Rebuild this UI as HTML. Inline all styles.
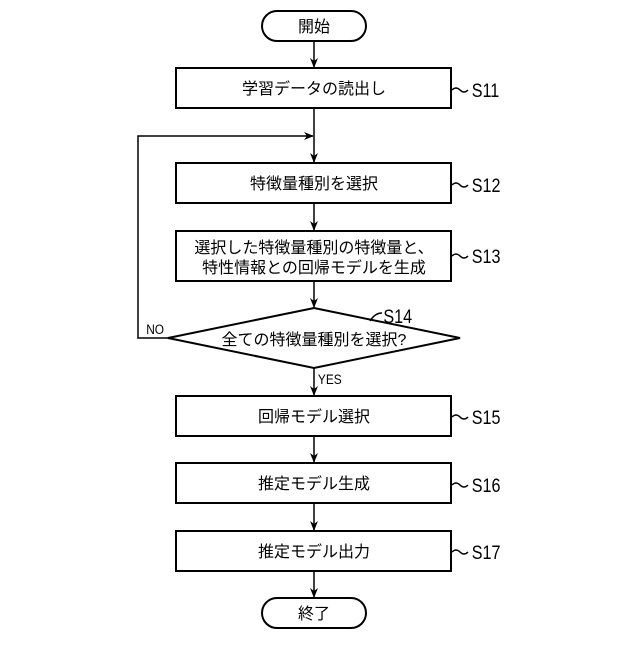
<!DOCTYPE html>
<html><head><meta charset="utf-8"><style>
body{margin:0;background:#fff}
svg text{font-family:"Liberation Sans","Noto Sans CJK JP",sans-serif;fill:#000}
</style></head><body>
<svg width="640" height="640" viewBox="0 0 640 640" xmlns="http://www.w3.org/2000/svg">
<defs><marker id="a" markerWidth="10" markerHeight="10" refX="9" refY="5" orient="auto" markerUnits="userSpaceOnUse"><path d="M0,1 L10,5 L0,9 L3,5 Z" fill="#000"/></marker></defs>
<g stroke="#000" stroke-width="2" fill="none">
<rect x="262" y="11" width="104" height="30" rx="15"/>
<rect x="176" y="68" width="275" height="40"/>
<rect x="176" y="163" width="275" height="40"/>
<rect x="176" y="231" width="275" height="50"/>
<polygon points="314,308 460,338 314,368 168,338"/>
<rect x="176" y="396" width="275" height="40"/>
<rect x="176" y="463" width="275" height="40"/>
<rect x="176" y="531" width="275" height="40"/>
<rect x="262" y="598" width="104" height="30" rx="15"/>
<g stroke-width="1.5">
<line x1="314" y1="41" x2="314" y2="67" marker-end="url(#a)"/>
<line x1="314" y1="108" x2="314" y2="162" marker-end="url(#a)"/>
<line x1="314" y1="203" x2="314" y2="230" marker-end="url(#a)"/>
<line x1="314" y1="281" x2="314" y2="307" marker-end="url(#a)"/>
<line x1="314" y1="368" x2="314" y2="395" marker-end="url(#a)"/>
<line x1="314" y1="436" x2="314" y2="462" marker-end="url(#a)"/>
<line x1="314" y1="503" x2="314" y2="530" marker-end="url(#a)"/>
<line x1="314" y1="571" x2="314" y2="597" marker-end="url(#a)"/>
<polyline points="168,338 138,338 138,136 313,136" marker-end="url(#a)"/>
<path d="M452,90 q4,-4 8,0 t8,0"/>
<path d="M452,185 q4,-4 8,0 t8,0"/>
<path d="M452,256 q4,-4 8,0 t8,0"/>
<path d="M452,417 q4,-4 8,0 t8,0"/>
<path d="M452,485 q4,-4 8,0 t8,0"/>
<path d="M452,552 q4,-4 8,0 t8,0"/>
<path d="M370,321 q5,-8 12,-8"/>
</g></g>
<g font-size="16" text-anchor="middle">
<text x="314" y="32">開始</text>
<text x="314" y="94">学習データの読出し</text>
<text x="314" y="189">特徴量種別を選択</text>
<text x="314" y="253">選択した特徴量種別の特徴量と、</text>
<text x="314" y="273">特性情報との回帰モデルを生成</text>
<text x="314" y="345">全ての特徴量種別を選択?</text>
<text x="314" y="422">回帰モデル選択</text>
<text x="314" y="489">推定モデル生成</text>
<text x="314" y="557">推定モデル出力</text>
<text x="314" y="619">終了</text>
</g>
<g font-size="19" transform="scale(0.85,1)">
<text x="555" y="97">S11</text>
<text x="555" y="192">S12</text>
<text x="555" y="263">S13</text>
<text x="451" y="323">S14</text>
<text x="555" y="424">S15</text>
<text x="555" y="492">S16</text>
<text x="555" y="559">S17</text>
</g>
<g font-size="14" transform="scale(0.85,1)">
<text x="172" y="334">NO</text>
<text x="374" y="384">YES</text>
</g>
</svg>
</body></html>
